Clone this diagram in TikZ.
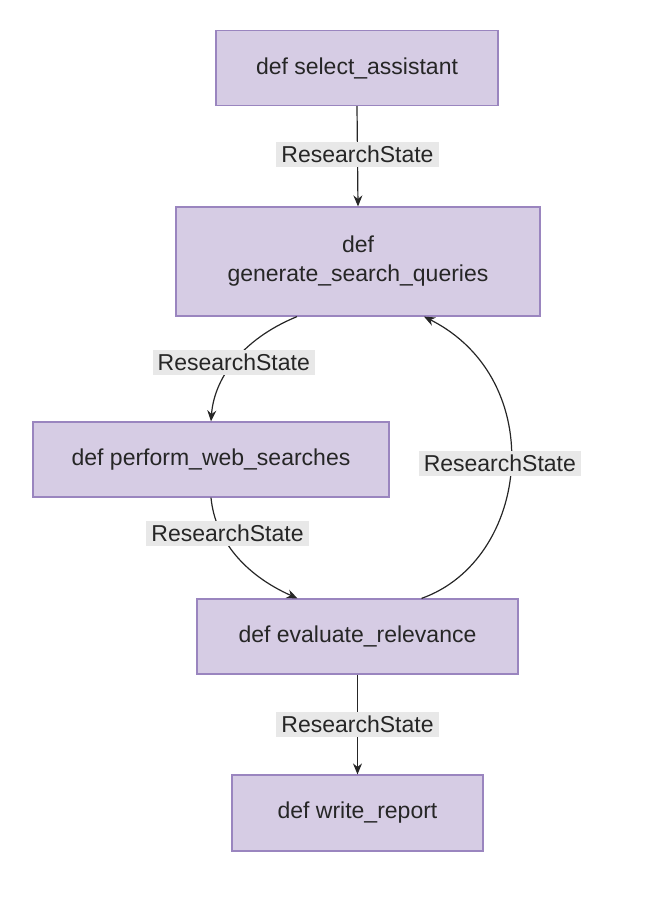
\documentclass[tikz,border=0pt]{standalone}
\usepackage{fontspec}
\setmainfont{Liberation Sans}
\usetikzlibrary{arrows.meta}
\begin{document}
\begin{tikzpicture}[x=1pt,y=-1pt,
  box/.style={draw=#1,fill=boxfill,line width=1.2pt,rectangle,inner sep=0pt,align=center,font=\fontsize{23}{29}\selectfont,text=black!85},
  box/.default=boxline,
  lbl/.style={fill=lblfill,inner xsep=5pt,inner ysep=4pt,font=\fontsize{23}{28}\selectfont,text=black!85},
  edge/.style={draw=black!85,line width=1.2pt,-{Stealth[length=11pt,width=9pt]}}]
\definecolor{boxfill}{HTML}{D6CCE4}
\definecolor{boxline}{HTML}{9A85BF}
\definecolor{lblfill}{HTML}{E8E8E8}
\useasboundingbox (0,0) rectangle (646,906);
\node[box,minimum width=282pt,minimum height=75pt] (a) at (357,68) {def select\_assistant};
\node[box,minimum width=364pt,minimum height=109pt] (b) at (358,261.5) {def\\generate\_search\_queries};
\node[box,minimum width=356pt,minimum height=75pt] (c) at (211,459.5) {def perform\_web\_searches};
\node[box,minimum width=321pt,minimum height=75pt] (d) at (357.5,636.5) {def evaluate\_relevance};
\node[box,minimum width=251pt,minimum height=76pt] (e) at (357.5,813) {def write\_report};
\draw[edge] (a.south) -- (b.north) node[lbl,pos=0.48] {ResearchState};
\draw[edge] ([xshift=-61pt]b.south) .. controls (240,340) and (214,380) .. (c.north) node[lbl,pos=0.5] {ResearchState};
\draw[edge] (c.south) .. controls (215,540) and (245,575) .. ([xshift=-60pt]d.north) node[lbl,pos=0.3,xshift=6pt] {ResearchState};
\draw[edge] ([xshift=64pt]d.north) .. controls (530,560) and (550,380) .. ([xshift=66pt]b.south) node[lbl,pos=0.51,xshift=-11pt] {ResearchState};
\draw[edge] (d.south) -- (e.north) node[lbl,pos=0.5] {ResearchState};
\end{tikzpicture}
\end{document}
